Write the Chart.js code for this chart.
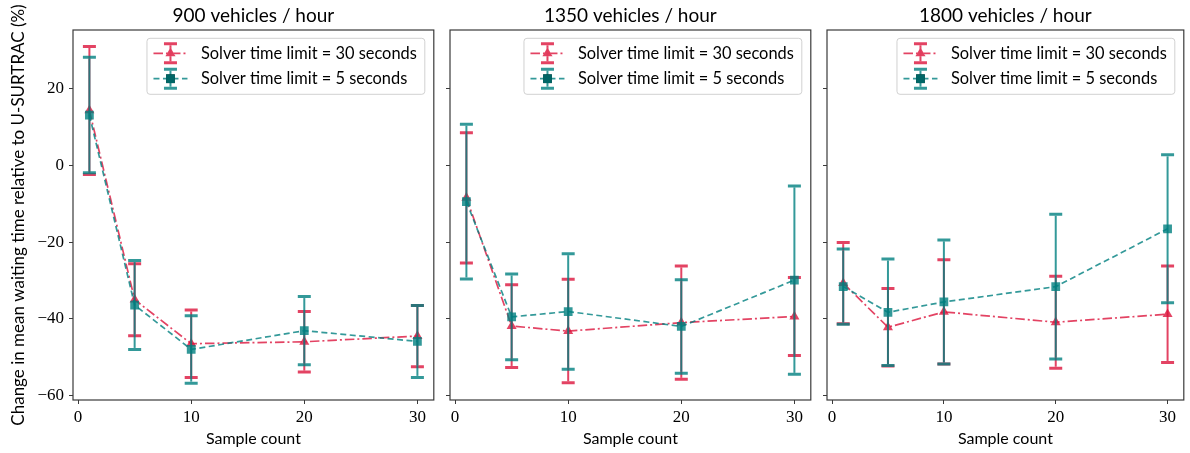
<!DOCTYPE html>
<html>
<head>
<meta charset="utf-8">
<script src="https://cdn.jsdelivr.net/npm/chart.js@4/dist/chart.umd.min.js"></script>
<style>
  html, body { margin: 0; padding: 0; background: #ffffff; }
  #wrap { position: relative; width: 1190px; height: 453px; overflow: hidden; background: #fff; }
  canvas { position: absolute; top: 0; }
</style>
</head>
<body>
<div id="wrap">
  <canvas id="c1"></canvas>
  <canvas id="c2"></canvas>
  <canvas id="c3"></canvas>
</div>
<script>
// ---------------- DATA ----------------
const sampleCounts = [1, 5, 10, 20, 30];
const panelTitles = ['900 vehicles / hour', '1350 vehicles / hour', '1800 vehicles / hour'];
const seriesLabels = ['Solver time limit = 30 seconds', 'Solver time limit = 5 seconds'];

const mean30_900  = [14.4, -35.0, -46.5, -46.0, -44.5];
const err30_900   = [16.7, 9.4, 8.8, 7.9, 8.0];
const mean5_900   = [13.2, -36.4, -48.0, -43.1, -45.9];
const err5_900    = [15.1, 11.6, 8.8, 8.9, 9.4];

const mean30_1350 = [-8.4, -41.9, -43.2, -41.0, -39.4];
const err30_1350  = [17.0, 10.8, 13.5, 14.8, 10.2];
const mean5_1350  = [-9.4, -39.5, -38.1, -42.0, -29.9];
const err5_1350   = [20.2, 11.2, 15.1, 12.2, 24.6];

const mean30_1800 = [-30.7, -42.2, -38.2, -40.9, -38.8];
const err30_1800  = [10.6, 10.1, 13.6, 12.0, 12.6];
const mean5_1800  = [-31.6, -38.3, -35.6, -31.6, -16.5];
const err5_1800   = [9.8, 13.9, 16.2, 18.9, 19.3];

const xTickValues = [0, 10, 20, 30];
const yTickValues = [-60, -40, -20, 0, 20];
const yAxisTitle = 'Change in mean waiting time relative to U-SURTRAC (%)';
const xAxisTitle = 'Sample count';

// ---------------- STYLE ----------------
const RED = 'rgba(220,20,60,0.8)';
const TEAL = 'rgba(0,128,128,0.8)';
const FRAME = '#3a3a3a';
const SANS = 'Lato, "Open Sans", sans-serif';
const SERIF = '"Liberation Serif", "DejaVu Serif", serif';

const styles = [
  { color: RED, dash: [9.5, 3, 2, 3], point: 'triangle', radius: 5.8 },
  { color: TEAL, dash: [6, 3.5], point: 'rect', radius: 6.2 }
];

function fmt(v) { return v < 0 ? '\u2212' + Math.abs(v) : String(v); }

// error bars drawn through the y scale for each dataset, before the line/markers
const errorBarPlugin = {
  id: 'errbars',
  beforeDatasetDraw(chart, args) {
    const ds = chart.data.datasets[args.index];
    const ys = chart.scales.y;
    const ctx = chart.ctx;
    ctx.save();
    ctx.strokeStyle = ds.borderColor;
    ctx.setLineDash([]);
    args.meta.data.forEach((pt, i) => {
      const v = ds.data[i].y, e = ds.errors[i];
      const yt = ys.getPixelForValue(v + e);
      const yb = ys.getPixelForValue(v - e);
      ctx.lineWidth = 2;
      ctx.beginPath(); ctx.moveTo(pt.x, yt + 1.5); ctx.lineTo(pt.x, yb - 1.5); ctx.stroke();
      ctx.lineWidth = 3;
      ctx.beginPath();
      ctx.moveTo(pt.x - 6.5, yt); ctx.lineTo(pt.x + 6.5, yt);
      ctx.moveTo(pt.x - 6.5, yb); ctx.lineTo(pt.x + 6.5, yb);
      ctx.stroke();
    });
    ctx.restore();
  }
};

// frame, title and legend
const decorPlugin = {
  id: 'decor',
  afterDraw(chart, args, opts) {
    const ctx = chart.ctx;
    const a = chart.chartArea;
    ctx.save();
    // frame
    ctx.strokeStyle = FRAME;
    ctx.lineWidth = 1.2;
    ctx.strokeRect(a.left, a.top, a.right - a.left, a.bottom - a.top);
    // title
    ctx.fillStyle = '#000';
    ctx.font = '19px ' + SANS;
    ctx.textAlign = 'center';
    ctx.textBaseline = 'middle';
    ctx.fillText(opts.title, (a.left + a.right) / 2, 15.5);
    // legend
    ctx.font = '16.4px ' + SANS;
    const tw = Math.max(...seriesLabels.map(s => ctx.measureText(s).width));
    const w = 54 + tw + 8;
    const h = 56;
    const lx = a.right - 9 - w;
    const ly = a.top + 8.3;
    ctx.beginPath();
    if (ctx.roundRect) ctx.roundRect(lx, ly, w, h, 3); else ctx.rect(lx, ly, w, h);
    ctx.fillStyle = 'rgba(255,255,255,0.8)';
    ctx.fill();
    ctx.strokeStyle = 'rgba(204,204,204,0.9)';
    ctx.lineWidth = 1;
    ctx.stroke();
    seriesLabels.forEach((label, i) => {
      const st = styles[i];
      const ry = ly + 15 + i * 25.4;
      const cx = lx + 23.5;
      ctx.strokeStyle = st.color;
      ctx.lineWidth = 1.7;
      ctx.setLineDash(st.dash);
      ctx.beginPath(); ctx.moveTo(lx + 6.5, ry); ctx.lineTo(lx + 40.5, ry); ctx.stroke();
      ctx.setLineDash([]);
      ctx.lineWidth = 2;
      ctx.beginPath(); ctx.moveTo(cx, ry - 8); ctx.lineTo(cx, ry + 8); ctx.stroke();
      ctx.lineWidth = 3;
      ctx.beginPath();
      ctx.moveTo(cx - 6.5, ry - 9.5); ctx.lineTo(cx + 6.5, ry - 9.5);
      ctx.moveTo(cx - 6.5, ry + 9.5); ctx.lineTo(cx + 6.5, ry + 9.5);
      ctx.stroke();
      Chart.helpers.drawPoint(ctx, { pointStyle: st.point, radius: st.radius, borderWidth: 0, rotation: 0 }, cx, ry);
      ctx.fillStyle = st.color;
      ctx.fill();
      ctx.fillStyle = '#000';
      ctx.textAlign = 'left';
      ctx.textBaseline = 'middle';
      ctx.fillText(label, lx + 54, ry);
    });
    ctx.restore();
  }
};

function makeDataset(idx, means, errs) {
  const st = styles[idx];
  return {
    label: seriesLabels[idx],
    data: sampleCounts.map((x, i) => ({ x: x, y: means[i] })),
    errors: errs,
    borderColor: st.color,
    backgroundColor: st.color,
    borderWidth: 1.7,
    borderDash: st.dash,
    pointStyle: st.point,
    pointRadius: st.radius,
    pointHoverRadius: st.radius,
    pointBorderWidth: 0,
    pointBackgroundColor: st.color,
    showLine: true,
    tension: 0,
    order: idx === 0 ? 1 : 0
  };
}

const panels = [
  { id: 'c1', left: 0,   width: 440, yw: 73, padR: 4, title: panelTitles[0], first: true,
    sets: [[mean30_900, err30_900], [mean5_900, err5_900]] },
  { id: 'c2', left: 440, width: 377, yw: 10, padR: 4, title: panelTitles[1], first: false,
    sets: [[mean30_1350, err30_1350], [mean5_1350, err5_1350]] },
  { id: 'c3', left: 817, width: 373, yw: 10, padR: 1, title: panelTitles[2], first: false,
    sets: [[mean30_1800, err30_1800], [mean5_1800, err5_1800]] }
];

panels.forEach(p => {
  const cv = document.getElementById(p.id);
  cv.width = p.width; cv.height = 453;
  cv.style.left = p.left + 'px';
  cv.style.width = p.width + 'px';
  cv.style.height = '453px';
  new Chart(cv, {
    type: 'scatter',
    data: { datasets: p.sets.map((s, i) => makeDataset(i, s[0], s[1])) },
    options: {
      responsive: false,
      animation: false,
      devicePixelRatio: 1,
      layout: { padding: { top: 30, right: p.padR, bottom: 0, left: 0 } },
      plugins: {
        legend: { display: false },
        tooltip: { enabled: false },
        decor: { title: p.title }
      },
      scales: {
        x: {
          type: 'linear',
          min: -0.45, max: 31.45,
          afterBuildTicks: ax => { ax.ticks = xTickValues.map(v => ({ value: v })); },
          afterFit: sc => { sc.height = 53; },
          grid: { drawOnChartArea: false, drawTicks: true, tickLength: 4, color: FRAME, tickWidth: 1 },
          border: { display: false },
          ticks: { color: '#000', font: { family: SERIF, size: 17 }, padding: 3, maxRotation: 0, callback: v => fmt(v) },
          title: { display: true, text: xAxisTitle, color: '#000', font: { family: SANS, size: 16 }, padding: { top: 0, bottom: 5 } }
        },
        y: {
          type: 'linear',
          min: -61.2, max: 35.4,
          afterBuildTicks: ax => { ax.ticks = yTickValues.map(v => ({ value: v })); },
          afterFit: sc => { sc.width = p.yw; },
          grid: { drawOnChartArea: false, drawTicks: true, tickLength: 4, color: FRAME, tickWidth: 1 },
          border: { display: false },
          ticks: { color: '#000', font: { family: SERIF, size: 17 }, padding: 5,
                   callback: v => p.first ? fmt(v) : '' },
          title: { display: p.first, text: yAxisTitle, color: '#000', font: { family: SANS, size: 17 }, padding: { top: 8.5, bottom: 0 } }
        }
      }
    },
    plugins: [errorBarPlugin, decorPlugin]
  });
});
</script>
</body>
</html>
